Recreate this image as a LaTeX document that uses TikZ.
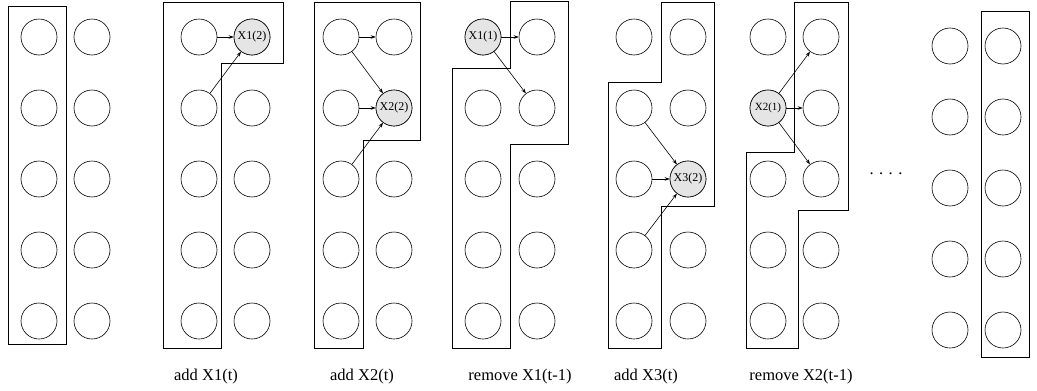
\documentclass[tikz,border=0pt]{standalone}
\usepackage{fontspec}
\setmainfont{Liberation Serif}
\usetikzlibrary{arrows.meta}

\begin{document}
\begin{tikzpicture}[x=1pt,y=-1pt,line width=0.6pt,
    >={Stealth[length=5pt,width=3.5pt]}]
    \tikzstyle{var}=[circle,draw=black,minimum size=36pt,inner sep=0pt]
    \tikzstyle{hid}=[fill=black!10,font=\fontsize{12}{12}\selectfont]
    \tikzstyle{step label}=[anchor=base,font=\fontsize{16.5}{18}\selectfont]
    \useasboundingbox (0,0) rectangle (1037,391);

    % the two time slices of each step
    \foreach \p/\xa/\xb/\dy in {1/39/92/0, 2/199/252/0, 3/341/394/0, 4/483/537/0,
        5/634/688/0, 6/768/821/0, 7/950/1003/9}
      \foreach \r in {1,...,5} {
        \node[var] (p\p a\r) at ({\xa},{37+71*(\r-1)+\dy}) {};
        \node[var] (p\p b\r) at ({\xb},{37+71*(\r-1)+\dy}) {};
      }

    % shaded variables
    \node[var,hid] (p2b1) at (p2b1) {X1(2)};
    \node[var,hid] (p3b2) at (p3b2) {X2(2)};
    \node[var,hid] (p4a1) at (p4a1) {X1(1)};
    \node[var,hid] (p5b3) at (p5b3) {X3(2)};
    \node[var,hid,font=\fontsize{11}{11}\selectfont] (p6a2) at (p6a2) {X2(1)};

    % frontiers
    \draw (8,6) rectangle (66,344);
    \draw (163,2) -- (283,2) -- (283,63) -- (221,63) -- (221,348) -- (163,348) -- cycle;
    \draw (314,2) -- (420,2) -- (420,140) -- (363,140) -- (363,348) -- (314,348) -- cycle;
    \draw (510,1) -- (568,1) -- (568,144) -- (510,144) -- (510,348) -- (452,348)
        -- (452,68) -- (510,68) -- cycle;
    \draw (661,2) -- (714,2) -- (714,206) -- (661,206) -- (661,348) -- (608,348)
        -- (608,82) -- (661,82) -- cycle;
    \draw (794,2) -- (848,2) -- (848,210) -- (798,210) -- (798,348) -- (746,348)
        -- (746,152) -- (794,152) -- cycle;
    \draw (981,11) rectangle (1029,357);

    \path[->]
    (p2a1) edge (p2b1)
    (p2a2) edge (p2b1)
    (p3a1) edge (p3b1)
    (p3a1) edge (p3b2)
    (p3a2) edge (p3b2)
    (p3a3) edge (p3b2)
    (p4a1) edge (p4b1)
    (p4a1) edge (p4b2)
    (p5a2) edge (p5b3)
    (p5a3) edge (p5b3)
    (p5a4) edge (p5b3)
    (p6a2) edge (p6b1)
    (p6a2) edge (p6b2)
    (p6a2) edge (p6b3);

    \node[step label] (l2) at (206,380) {add X1(t)};
    \node[step label] (l3) at (362,380) {add X2(t)};
    \node[step label] (l4) at (520,380) {remove X1(t-1)};
    \node[step label] (l5) at (646,380) {add X3(t)};
    \node[step label] (l6) at (801,380) {remove X2(t-1)};
    \node[step label] (dots) at (886,174) {. . . .};
\end{tikzpicture}
\end{document}
